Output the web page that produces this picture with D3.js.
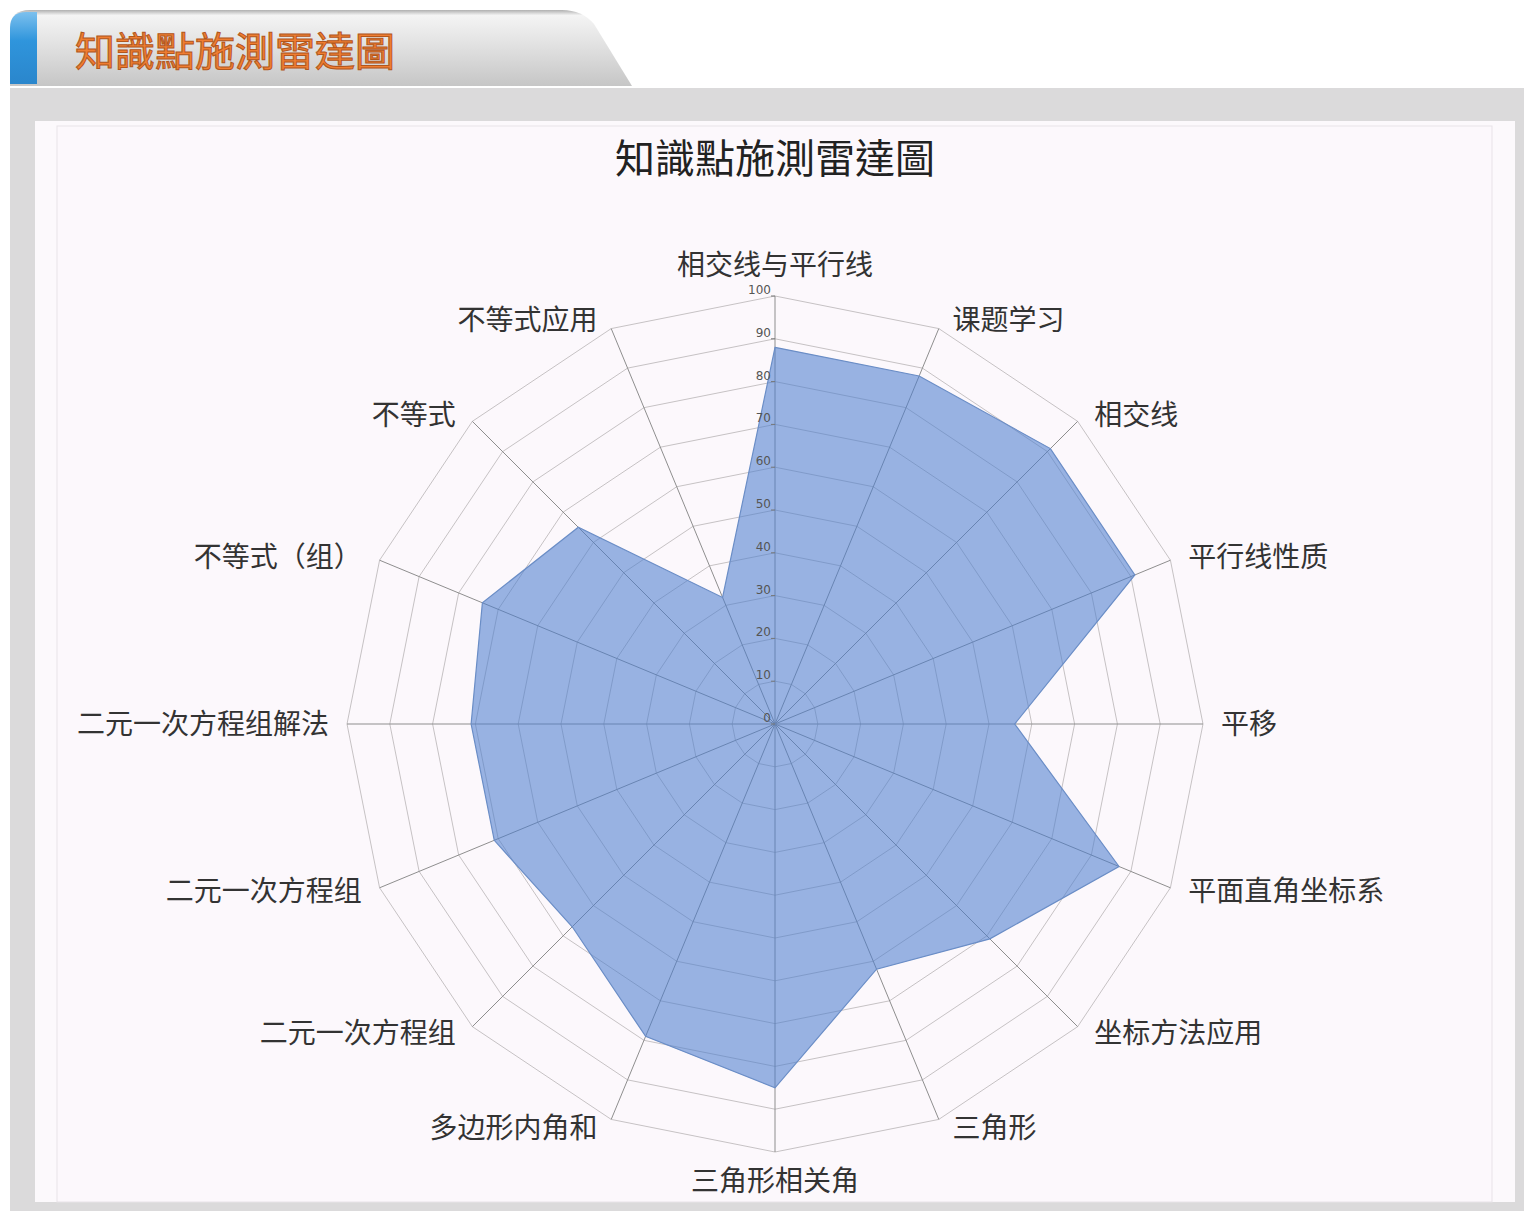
<!DOCTYPE html>
<html>
<head>
<meta charset="utf-8">
<script src="https://cdn.jsdelivr.net/npm/d3@7"></script>
<style>
  body { margin: 0; background: #ffffff; }
  text { font-family: "Noto Sans CJK SC", "Noto Sans", sans-serif; }
</style>
</head>
<body>
<div id="chart"></div>
<script>
// data
let pageTitle = "知識點施測雷達圖";
let chartTitle = "知識點施測雷達圖";
let categories = ["相交线与平行线", "课题学习", "相交线", "平行线性质", "平移", "平面直角坐标系",
    "坐标方法应用", "三角形", "三角形相关角", "多边形内角和", "二元一次方程组", "二元一次方程组",
    "二元一次方程组解法", "不等式（组）", "不等式", "不等式应用"];
let values = [88, 88, 91, 91, 56, 87, 71, 62, 85, 79, 67, 71, 71, 74, 65, 32];
let ticks = [0, 10, 20, 30, 40, 50, 60, 70, 80, 90, 100];

let svgWidth = 1524;
let svgHeight = 1211;
let cx = 775, cy = 724, radius = 428;

let svg = d3.select("#chart").append("svg")
    .attr("width", svgWidth)
    .attr("height", svgHeight);

let defs = svg.append("defs");
let tabGrad = defs.append("linearGradient").attr("id", "tabGrad")
    .attr("x1", 0).attr("y1", 0).attr("x2", 0).attr("y2", 1);
tabGrad.append("stop").attr("offset", "0%").attr("stop-color", "#b0b0b0");
tabGrad.append("stop").attr("offset", "7%").attr("stop-color", "#f4f4f4");
tabGrad.append("stop").attr("offset", "45%").attr("stop-color", "#e2e2e2");
tabGrad.append("stop").attr("offset", "100%").attr("stop-color", "#c6c6c6");
let blueGrad = defs.append("linearGradient").attr("id", "blueGrad")
    .attr("x1", 0).attr("y1", 0).attr("x2", 0).attr("y2", 1);
blueGrad.append("stop").attr("offset", "0%").attr("stop-color", "#7cc0ee");
blueGrad.append("stop").attr("offset", "40%").attr("stop-color", "#2f95dc");
blueGrad.append("stop").attr("offset", "100%").attr("stop-color", "#2a86cc");

// header tab
svg.append("path")
    .attr("d", "M10,86 L10,28 Q10,10 30,10 L562,10 Q582,10 594,24 L632,86 Z")
    .attr("fill", "url(#tabGrad)");
svg.append("path")
    .attr("d", "M10,84 L10,28 Q10,12 26,12 L37,12 L37,84 Z")
    .attr("fill", "url(#blueGrad)");
svg.append("text")
    .attr("x", 75)
    .attr("y", 66)
    .attr("font-size", 40)
    .attr("fill", "#ef7d32")
    .attr("stroke", "#b2561c")
    .attr("stroke-width", 1)
    .style("font-family", "'Noto Sans CJK TC', sans-serif")
    .text(pageTitle);

// panels
svg.append("rect").attr("x", 10).attr("y", 88).attr("width", 1514).attr("height", 1123)
    .attr("fill", "#dbdadb");
svg.append("rect").attr("x", 35).attr("y", 121).attr("width", 1480).attr("height", 1081)
    .attr("fill", "#fcf9fc");
svg.append("rect").attr("x", 57).attr("y", 126).attr("width", 1435).attr("height", 1076)
    .attr("fill", "#fcf8fc").attr("stroke", "#e8e3e8");

svg.append("text")
    .attr("x", cx)
    .attr("y", 173)
    .attr("text-anchor", "middle")
    .attr("font-size", 40)
    .attr("fill", "#222")
    .style("font-family", "'Noto Sans CJK TC', sans-serif")
    .text(chartTitle);

let chartGroup = svg.append("g")
    .attr("transform", `translate(${cx}, ${cy})`);

// scales
let rScale = d3.scaleLinear().domain([0, 100]).range([0, radius]);
let angle = d3.scaleLinear().domain([0, categories.length]).range([0, 2 * Math.PI]);

let pointAt = (i, v) => [rScale(v) * Math.sin(angle(i)), -rScale(v) * Math.cos(angle(i))];

// grid rings
let ring = d3.line().curve(d3.curveLinearClosed);
chartGroup.selectAll(".ring")
    .data(ticks.filter(t => t > 0))
    .enter()
    .append("path")
    .attr("class", "ring")
    .attr("d", t => ring(categories.map((c, i) => pointAt(i, t))))
    .attr("fill", "none")
    .attr("stroke", "#c6c2c4")
    .attr("stroke-width", 1);

// spokes
chartGroup.selectAll(".spoke")
    .data(categories)
    .enter()
    .append("line")
    .attr("class", "spoke")
    .attr("x1", 0).attr("y1", 0)
    .attr("x2", (d, i) => pointAt(i, 100)[0])
    .attr("y2", (d, i) => pointAt(i, 100)[1])
    .attr("stroke", "#8e8e8e")
    .attr("stroke-width", 1);

// data area
chartGroup.append("path")
    .attr("d", ring(values.map((v, i) => pointAt(i, v))))
    .attr("fill", "rgba(75,125,205,0.57)")
    .attr("stroke", "#6a8dc6")
    .attr("stroke-width", 1.2);

// tick marks & labels on the top axis
chartGroup.selectAll(".tickMark")
    .data(ticks)
    .enter()
    .append("line")
    .attr("x1", -4).attr("x2", 0)
    .attr("y1", t => -rScale(t)).attr("y2", t => -rScale(t))
    .attr("stroke", "#777");
chartGroup.selectAll(".tickLabel")
    .data(ticks)
    .enter()
    .append("text")
    .attr("x", -4)
    .attr("y", t => -rScale(t) - 2)
    .attr("text-anchor", "end")
    .attr("font-size", 12)
    .attr("fill", "#555")
    .style("font-family", "'DejaVu Sans', sans-serif")
    .text(t => t);

// category labels
let side = i => {
    let s = Math.sin(angle(i));
    return Math.abs(s) < 0.01 ? 0 : Math.sign(s);
};
chartGroup.selectAll(".catLabel")
    .data(categories)
    .enter()
    .append("text")
    .attr("class", "catLabel")
    .attr("x", (d, i) => {
        let s = Math.sin(angle(i)), c = Math.cos(angle(i));
        return (radius + 18) * s + side(i) * 8 * c * c;
    })
    .attr("y", (d, i) => {
        let c = Math.cos(angle(i));
        if (Math.abs(c) > 0.99) return -(radius + 18) * c;
        return -(radius + 9) * c;
    })
    .attr("dy", (d, i) => {
        let c = Math.cos(angle(i));
        if (c > 0.99) return "-0.1em";
        if (c < -0.99) return "0.75em";
        return "0.35em";
    })
    .attr("text-anchor", (d, i) => side(i) === 0 ? "middle" : (side(i) > 0 ? "start" : "end"))
    .attr("font-size", 28)
    .attr("fill", "#333")
    .text(d => d);
</script>
</body>
</html>
